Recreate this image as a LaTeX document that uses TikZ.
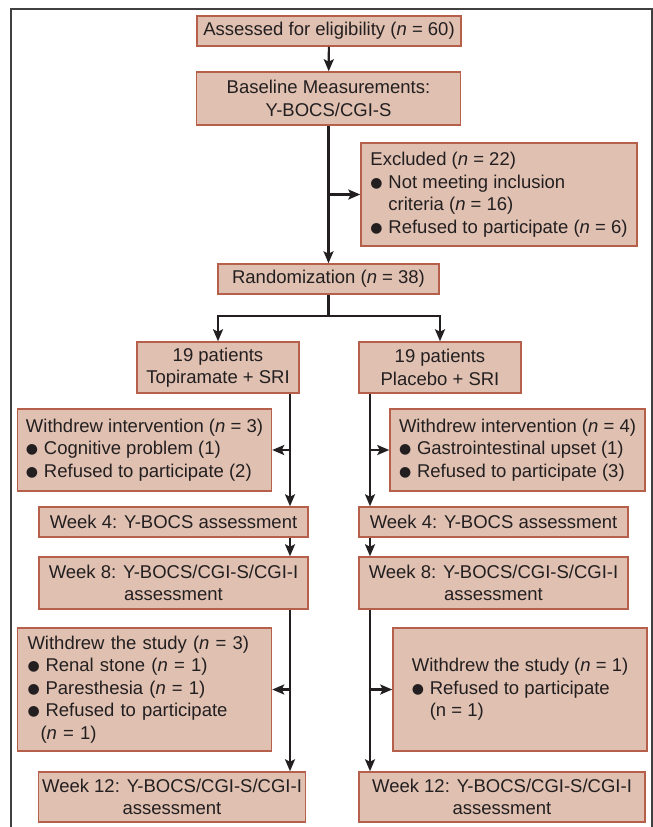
\documentclass[tikz,border=0pt]{standalone}
\usepackage{fontspec}
\setmainfont{Liberation Sans}
\newfontfamily\bulfont{DejaVu Sans}
\usetikzlibrary{arrows.meta, positioning}

\definecolor{boxfill}{RGB}{223,192,177}
\definecolor{boxline}{RGB}{182,96,76}
\definecolor{ink}{RGB}{35,31,32}

\newcommand{\pbul}{\makebox[18pt][l]{\raisebox{1pt}{\bulfont\fontsize{14}{14}\selectfont ●}}}
\newcommand{\pgap}{\hspace*{18pt}}

\begin{document}
\begin{tikzpicture}[
        x = 1pt, y = -1pt,
        >= {Stealth[length = 12pt, width = 10pt, inset = 2.5pt]},
        font = \fontsize{18.5}{22.5}\selectfont,
        box/.style = {draw = boxline, line width = 1.5pt, fill = boxfill,
                      text = ink, inner sep = 0pt, align = center},
        listbox/.style = {box, align = left},
        flow/.style = {->, draw = ink, line width = 2.2pt}
    ]

    \useasboundingbox (0,0) rectangle (653,827);
    \draw[black!75, line width = 1.5pt] (11,827) -- (11,9) -- (652,9) -- (652,827);

      % common part
      \node[box, minimum width = 264, minimum height = 30] (assess) at (329,31)
            {Assessed for eligibility (\textit{n} = 60)};
      \node[box, minimum width = 264, minimum height = 53] (base) at (328.5,98.5)
            {Baseline Measurements:\\ Y-BOCS/CGI-S};
      \node[listbox, minimum width = 276, minimum height = 103] (excl) at (499,194.5)
            {Excluded (\textit{n} = 22)\\ \pbul Not meeting inclusion\\
             \pgap criteria (\textit{n} = 16)\\ \pbul Refused to participate (\textit{n} = 6)};
      \node[box, minimum width = 221, minimum height = 30] (rand) at (328.5,279)
            {Randomization (\textit{n} = 38)};

      % topiramate arm
      \node[box, minimum width = 162, minimum height = 51] (topi) at (218,367.5)
            {19 patients\\ Topiramate + SRI};
      \node[listbox, minimum width = 254, minimum height = 82] (wd_t) at (144.5,450)
            {Withdrew intervention (\textit{n} = 3)\\ \pbul Cognitive problem (1)\\
             \pbul Refused to participate (2)};
      \node[box, minimum width = 269, minimum height = 30] (w4_t) at (173.5,522)
            {Week 4: Y-BOCS assessment};
      \node[box, minimum width = 269, minimum height = 52] (w8_t) at (173.5,583)
            {Week 8: Y-BOCS/CGI-S/CGI-I\\ assessment};
      \node[listbox, text width = 234, inner xsep = 10pt, minimum height = 123] (ws_t) at (144.5,689.5)
            {Withdrew the study (\textit{n} = 3)\\ \pbul Renal stone (\textit{n} = 1)\\
             \pbul Paresthesia (\textit{n} = 1)\\ \pbul Refused to participate\\
             \hspace*{13pt}(\textit{n} = 1)};
      \node[box, minimum width = 267, minimum height = 50] (w12_t) at (172,797)
            {Week 12: Y-BOCS/CGI-S/CGI-I\\ assessment};

      % placebo arm
      \node[box, minimum width = 162, minimum height = 51] (plac) at (440,367.5)
            {19 patients\\ Placebo + SRI};
      \node[listbox, minimum width = 255, minimum height = 82] (wd_p) at (517.5,450)
            {Withdrew intervention (\textit{n} = 4)\\ \pbul Gastrointestinal upset (1)\\
             \pbul Refused to participate (3)};
      \node[box, minimum width = 269, minimum height = 30] (w4_p) at (493.5,522)
            {Week 4: Y-BOCS assessment};
      \node[box, minimum width = 269, minimum height = 52] (w8_p) at (493.5,583)
            {Week 8: Y-BOCS/CGI-S/CGI-I\\ assessment};
      \node[listbox, minimum width = 254, minimum height = 123] (ws_p) at (520,689.5)
            {Withdrew the study (\textit{n} = 1)\\ \pbul Refused to participate\\
             \pgap (n = 1)};
      \node[box, minimum width = 286, minimum height = 50] (w12_p) at (502,797)
            {Week 12: Y-BOCS/CGI-S/CGI-I\\ assessment};

      \coordinate (split) at (328.5,316);
      \coordinate (trunk_t) at (290,0);
      \coordinate (trunk_p) at (370,0);

      \draw[flow] (assess) -- (base);
      \draw[flow] (base) -- (rand);
      \draw[flow] (base.south |- excl.west) -- (excl.west);
      \draw[flow] (rand.south) -- (split) -| (topi.north);
      \draw[flow] (split) -| (plac.north);

      \draw[flow] (trunk_t |- topi.south) -- (trunk_t |- w4_t.north);
      \draw[flow] (trunk_t |- wd_t.east) -- (wd_t.east);
      \draw[flow] (trunk_t |- w4_t.south) -- (trunk_t |- w8_t.north);
      \draw[flow] (trunk_t |- w8_t.south) -- (trunk_t |- w12_t.north);
      \draw[flow] (trunk_t |- ws_t.east) -- (ws_t.east);

      \draw[flow] (trunk_p |- plac.south) -- (trunk_p |- w4_p.north);
      \draw[flow] (trunk_p |- wd_p.west) -- (wd_p.west);
      \draw[flow] (trunk_p |- w4_p.south) -- (trunk_p |- w8_p.north);
      \draw[flow] (trunk_p |- w8_p.south) -- (trunk_p |- w12_p.north);
      \draw[flow] (trunk_p |- ws_p.west) -- (ws_p.west);

\end{tikzpicture}
\end{document}
